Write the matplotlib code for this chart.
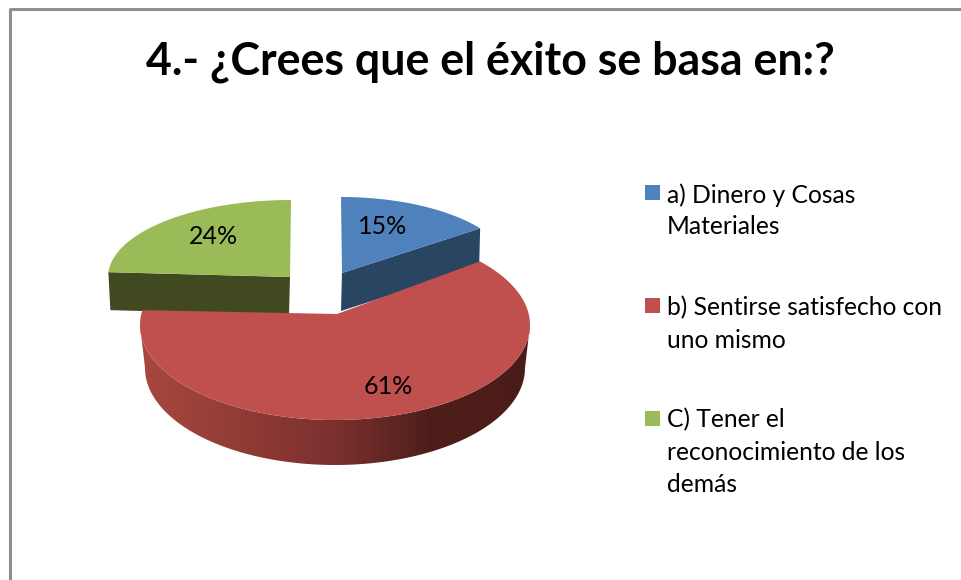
import matplotlib
matplotlib.use("Agg")
import matplotlib.pyplot as plt
import numpy as np
from matplotlib.colors import LinearSegmentedColormap
from matplotlib.patches import Polygon, Rectangle

plt.rcParams['font.family'] = ['Lato', 'DejaVu Sans']

title = "4.- ¿Crees que el éxito se basa en:?"
values = [15, 61, 24]
legend_lines = [
    ["a) Dinero y Cosas", "Materiales"],
    ["b) Sentirse satisfecho con", "uno mismo"],
    ["C) Tener el", "reconocimiento de los", "demás"],
]

top_colors = ["#4F81BD", "#C0504D", "#9BBB59"]
face_colors = ["#2A4562", None, "#40491F"]

# the picture is laid out in pixels, y going down
# apex x/y, ellipse centre x/y, radius x/y, depth, angle fudge for the perspective
slice_geom = [
    (342, 273, 341, 273, 172, 76, 38, 0, 0),
    (337, 314, 335, 325, 195, 95, 43, -6, 5.4),
    (290, 277, 291, 277, 183, 77, 38, 0, 0),
]
label_pos = [(383, 227), (388, 386), (213, 237)]
legend_y = [[195, 227], [308, 340], [420, 453, 485]]
square_y = [192, 305, 418]


def arc(cx, cy, rx, ry, a0, a1):
    # angles clockwise from the top, in degrees
    t = np.radians(np.linspace(a0, a1, 200))
    return np.column_stack([cx + rx * np.sin(t), cy - ry * np.cos(t)])


fig = plt.figure(figsize=(9.61, 5.8), dpi=100)
ax = fig.add_axes([0, 0, 1, 1])
ax.axis("off")

# angles come from the values
ends = np.cumsum(values) / sum(values) * 360
starts = np.concatenate([[0], ends[:-1]])

# outer frame, only top and left are in view
ax.plot([10, 961], [9, 9], color="#8E8E8E", lw=2.2, solid_capstyle="butt")
ax.plot([10, 10], [8, 580], color="#8E8E8E", lw=2.2, solid_capstyle="butt")

# cut faces of blue and green go behind the red slice
for i in [2, 0]:
    ax_, ay, cx, cy, rx, ry, depth, d0, d1 = slice_geom[i]
    a_end = ends[i] if i == 0 else starts[i]
    p = arc(cx, cy, rx, ry, a_end, a_end + 0.01)[0]
    face = [(ax_, ay), tuple(p), (p[0] + (2 if i == 2 else -1), p[1] + depth), (ax_ - 1, ay + depth)]
    ax.add_patch(Polygon(face, closed=True, fc=face_colors[i], ec="none"))
    pts = np.vstack([[ax_, ay], arc(cx, cy, rx, ry, starts[i] + d0, ends[i] + d1)])
    ax.add_patch(Polygon(pts, closed=True, fc=top_colors[i], ec="none"))

# red slice: shaded rim then the top
ax_, ay, cx, cy, rx, ry, depth, d0, d1 = slice_geom[1]
rim_top = arc(cx, cy, rx, ry, 90, 270)
rim_bottom = arc(cx, cy + depth, rx - 5, ry + 2, 270, 90)
rim = Polygon(np.vstack([rim_top, rim_bottom]), closed=True, fc="none", ec="none")
ax.add_patch(rim)
rim_cmap = LinearSegmentedColormap.from_list(
    "rim", [(0, "#A8483F"), (0.5, "#7B302E"), (0.74, "#4F1E1B"), (1, "#4A1C19")])
grad = ax.imshow(np.linspace(0, 1, 256).reshape(1, -1), cmap=rim_cmap, aspect="auto",
                 extent=(cx - rx, cx + rx, cy + depth + ry + 5, cy - 5))
grad.set_clip_path(rim)

pts = np.vstack([[ax_, ay], arc(cx, cy, rx, ry, starts[1] + d0, ends[1] + d1)])
ax.add_patch(Polygon(pts, closed=True, fc=top_colors[1], ec="none"))

for v, (x, y) in zip(values, label_pos):
    ax.text(x, y, f"{v}%", fontsize=18, color="black", ha="center", va="center")

ax.text(490, 62, title, fontsize=32.2, fontweight="bold", color="black", ha="center", va="center")

for color, lines, ys, sy in zip(top_colors, legend_lines, legend_y, square_y):
    ax.add_patch(Rectangle((645, sy - 7), 15, 15, fc=color, ec="none"))
    for line, y in zip(lines, ys):
        ax.text(667, y, line, fontsize=17.7, color="black", ha="left", va="center")

ax.set_xlim(0, 961)
ax.set_ylim(580, 0)

fig.savefig("out.png", dpi=100)
